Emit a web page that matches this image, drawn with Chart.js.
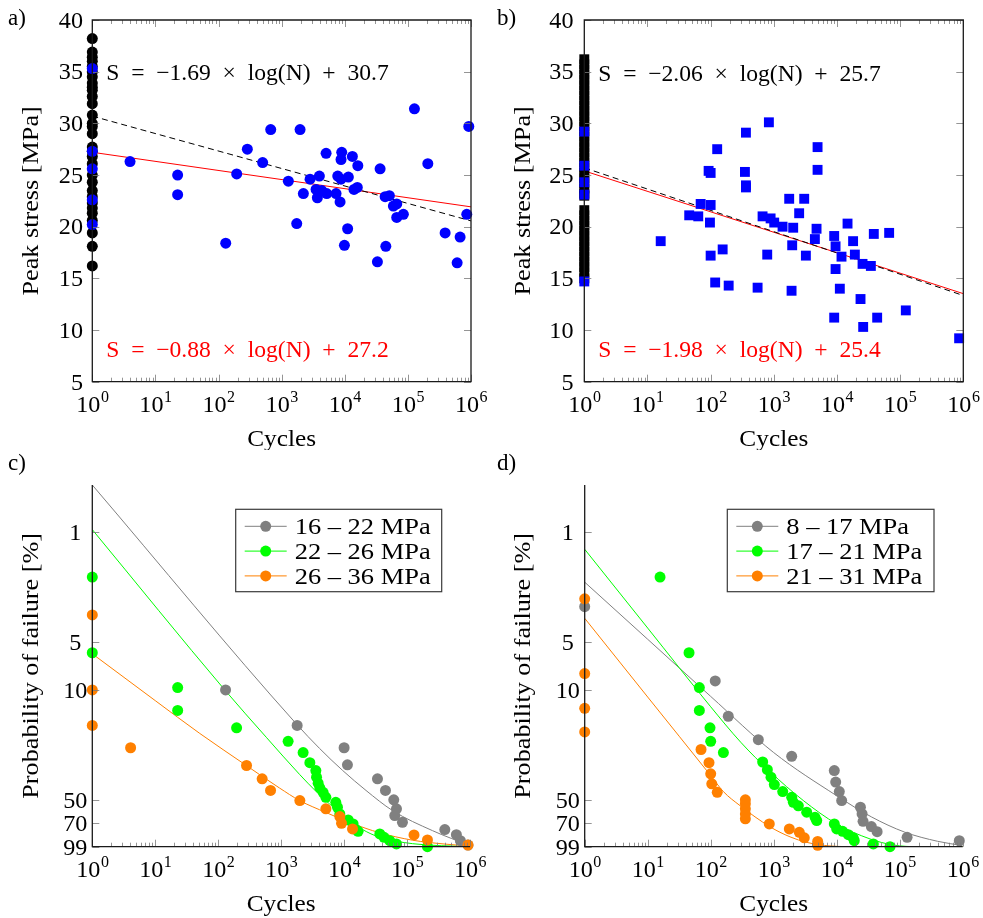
<!DOCTYPE html>
<html>
<head>
<meta charset="utf-8">
<script src="https://cdn.jsdelivr.net/npm/chart.js@4.4.1/dist/chart.umd.min.js"></script>
<style>
  body { margin: 0; background: #fff; }
  #wrap { position: relative; width: 983px; height: 918px; }
  canvas { position: absolute; }
</style>
</head>
<body>
<div id="wrap">
  <canvas id="pa" style="left:0;top:0"></canvas>
  <canvas id="pb" style="left:491px;top:0"></canvas>
  <canvas id="pc" style="left:0;top:450px"></canvas>
  <canvas id="pd" style="left:491px;top:450px"></canvas>
</div>
<script>
// shared axes
const xTicks = [1, 10, 100, 1e3, 1e4, 1e5, 1e6];
const xExp = ['0', '1', '2', '3', '4', '5', '6'];
const stressTicks = [5, 10, 15, 20, 25, 30, 35, 40];
const probTicks = [1, 5, 10, 50, 70, 99];
const fitN = [1, 1e6];

// panel a: specimens not failed (N = 1) and failures
const aRunBlack = [38.2, 36.9, 36.4, 36.0, 35.5, 35.0, 34.5, 33.9, 33.5, 33.2, 32.6, 31.9, 30.8, 30.0, 29.7,
  29.0, 27.7, 27.3, 26.8, 26.1, 25.0, 24.3, 23.5, 22.9, 22.3, 21.8, 21.3, 20.6, 19.4, 18.1, 16.2];
const aRunBlue = [35.3, 27.3, 25.6, 22.6, 20.2];
const aCycles = [3.96, 22.5, 22.5, 130, 194, 286, 500, 671, 1277, 1733, 1958, 2208, 2820, 3510, 3680, 3960,
  4320, 5060, 5180, 7280, 7740, 8420, 8730, 8950, 8730, 9870, 11100, 11400, 13200, 14000, 15800, 16100,
  32900, 36300, 43600, 44700, 50900, 58900, 66600, 66600, 84800, 127000, 207000, 389000, 603000, 672000,
  857000, 922000];
const aStress = [26.3, 25.0, 23.1, 18.4, 25.1, 27.5, 26.2, 29.4, 24.4, 20.3, 29.4, 23.2, 24.6, 23.6, 22.8, 24.9,
  23.5, 27.1, 23.2, 23.2, 24.9, 22.4, 26.5, 27.2, 24.6, 18.2, 19.8, 24.8, 26.8, 23.6, 23.8, 25.9,
  16.6, 25.6, 22.9, 18.1, 23.0, 22.0, 22.2, 20.9, 21.2, 31.4, 26.1, 19.4, 16.5, 19.0,
  21.2, 29.7];
const aFitAll = [30.7, 20.56];
const aFitFail = [27.2, 21.92];

// panel b
const bRunBlack = [36.2, 35.7, 35.2, 34.7, 34.2, 33.7, 33.2, 32.7, 32.2, 31.7, 31.2, 30.7, 30.2, 29.7, 29.2,
  28.7, 28.2, 27.7, 27.2, 26.7, 26.2, 25.7, 25.2, 24.7, 24.2, 23.7, 23.2, 23.0,
  21.6, 21.1, 20.6, 20.1, 19.6, 19.1, 18.6, 18.1, 17.6, 17.1, 16.6, 16.1, 15.6, 15.0];
const bRunBlue = [29.2, 25.9, 24.3, 23.1, 14.7];
const bCycles = [16.2, 45.8, 63.7, 69.5, 100, 92.9, 100, 97.5, 100, 127, 118, 155, 193, 362, 349, 362, 362,
  836, 554, 664, 787, 890, 1015, 1376, 1753, 2028, 1955, 1911, 2520, 3030, 3220, 4470, 4750, 4930, 4930,
  9040, 9500, 9500, 9040, 11100, 11800, 14700, 18000, 19200, 23600, 25400, 26000, 34400, 38300, 43300,
  67000, 123000, 859000];
const bStress = [18.6, 21.1, 21.0, 22.2, 22.1, 25.4, 25.2, 20.4, 17.2, 27.5, 14.6, 17.8, 14.3, 29.1, 25.3, 24.0, 23.8,
  30.1, 14.1, 21.0, 17.3, 20.8, 20.4, 20.0, 22.7, 19.9, 18.2, 13.8, 21.3, 22.7, 17.2, 18.8, 19.8, 27.7, 25.5,
  19.1, 18.1, 15.9, 11.2, 14.0, 17.1, 20.3, 18.6, 17.3, 13.0, 16.4, 10.3, 16.2, 19.3, 11.2,
  19.4, 11.9, 9.2];
const bFitAll = [25.7, 13.34];
const bFitFail = [25.4, 13.52];

// panel c: probability of failure [%] per stress class
const cLabels = ['16 – 22 MPa', '22 – 26 MPa', '26 – 36 MPa'];
const cGrayN = [131, 1795, 10000, 11300, 33900, 45400, 61500, 67900, 63800, 84500, 398000, 608000, 703000, 929000];
const cGrayP = [10.0, 16.8, 23.3, 29.9, 36.7, 43.5, 49.9, 56.9, 62.8, 69.3, 77.1, 83, 90.6, 96.6];
const cGreenN = [1, 1, 22.7, 22.7, 196, 1290, 2234, 2857, 3557, 3650, 3870, 4110, 4640, 5130, 7380, 7850, 8550,
  11600, 13900, 15700, 16700, 36900, 43100, 53100, 67900, 211000];
const cGreenP = [1.92, 5.81, 9.66, 13.5, 17.4, 21.2, 25.0, 29, 32.5, 35.8, 39.1, 41.9, 44.7, 48.1, 51.7, 55.6, 61.3,
  66.9, 71, 77.5, 79, 82.2, 86.3, 90.6, 95, 99];
const cOrangeN = [1, 1, 1, 4.06, 282, 499, 679, 1982, 5130, 8550, 9100, 13600, 129000, 211000, 929000];
const cOrangeP = [3.34, 10.0, 16.8, 23.3, 30.2, 36.7, 43.5, 50.4, 56.9, 63.7, 70.3, 76.4, 83.4, 89.7, 96.6];
const cGrayFitN = [1, 1734, 4060, 9500, 22300, 58900, 253600, 1e6];
const cGrayFitP = [0.5, 16.4, 23.5, 32.5, 43.5, 58.4, 78.3, 97.5];
const cGreenFitN = [1, 127, 581, 1960, 3600, 5850, 10770, 19700, 36200, 122000, 1e6];
const cGreenFitP = [0.96, 10, 20.0, 34.4, 44.2, 52.9, 65.6, 77.1, 86.1, 94.7, 99];
const cOrangeFitN = [1, 10, 51, 280, 944, 1960, 5190, 13680, 36200, 122000, 413000, 1e6];
const cOrangeFitP = [5.9, 11.7, 18.9, 30.2, 42, 50.4, 60.1, 70.6, 80.6, 90, 95.4, 98];

// panel d
const dLabels = ['8 – 17 MPa', '17 – 21 MPa', '21 – 31 MPa'];
const dGrayN = [1, 118, 190, 570, 1930, 9160, 9640, 11000, 12000, 23800, 25300, 26200, 35500, 43800, 131000, 883000];
const dGrayP = [2.96, 8.77, 14.7, 20.7, 26.4, 32.5, 38.5, 44.2, 50.4, 55.6, 61.3, 68.3, 73.8, 79.5, 86.3, 90.6];
const dGreenN = [15.7, 45.3, 66, 66, 97.5, 100, 159, 668, 793, 906, 1023, 1390, 1930, 2050, 2460, 3340, 4530, 4820,
  9160, 10000, 12400, 15300, 18300, 19000, 38100, 70100];
const dGreenP = [1.92, 5.81, 9.66, 13.5, 17.4, 21.2, 25.0, 28.7, 32.1, 35.8, 39.9, 44.2, 48.1, 51.7, 54.5, 59.8, 64.4, 67.6,
  71, 76.4, 79, 83, 87, 90.6, 95, 99];
const dOrangeN = [1, 1, 1, 1, 70.2, 94, 100, 104, 127, 355, 355, 355, 355, 355, 851, 1770, 2550, 3060, 4990, 4990];
const dOrangeP = [2.64, 7.87, 13.1, 18.5, 23.9, 29, 34.1, 39.5, 44.7, 49.9, 52.9, 56.9, 61.3, 65.9, 71, 76.4, 80.2, 87, 91.6, 97];
const dGrayFitN = [1, 10, 100, 1000, 10000, 35500, 120000, 400000, 1e6];
const dGrayFitP = [2.07, 4.77, 11.0, 25.0, 47, 64, 80, 91.5, 97.5];
const dGreenFitN = [1, 10, 100, 300, 870, 2950, 10000, 33900, 79400, 200000, 1e6];
const dGreenFitP = [1.28, 4.05, 12.8, 21.5, 33, 50.4, 71, 88.4, 96.6, 99, 99];
const dOrangeFitN = [1, 10, 100, 158.6, 292, 874, 1815, 3340, 7830, 23400, 1e6];
const dOrangeFitP = [3.51, 11.1, 35, 44.2, 54.3, 74, 85.7, 92.9, 97.9, 99, 99];

const FONT = '"Liberation Serif", "DejaVu Serif", serif';
const BLUE = '#0000ff', RED = '#ff0000', GRAY = '#808080', GREEN = '#00ff00', ORANGE = '#ff8000';

const pts = (xs, ys) => xs.map((v, i) => ({ x: v, y: ys[i] }));
const col = ys => ys.map(v => ({ x: 1, y: v }));

function marks(data, color, style, r) {
  return { data, pointStyle: style || 'circle', pointRadius: r || 5.5, pointBackgroundColor: color,
    pointBorderWidth: 0, showLine: false, clip: false };
}
function curve(data, color, dash, smooth) {
  return { data, borderColor: color, borderWidth: 1, borderDash: dash || [], pointRadius: 0, showLine: true,
    cubicInterpolationMode: smooth ? 'monotone' : 'default' };
}

// sx stretches the glyphs a little, the LaTeX font is wider than Times
function text(ctx, s, x, y, size, color, align, sx) {
  ctx.save();
  ctx.font = size + 'px ' + FONT;
  ctx.fillStyle = color || '#000';
  ctx.textAlign = align || 'left';
  ctx.textBaseline = 'alphabetic';
  ctx.translate(x, y);
  ctx.scale(sx || 1, 1);
  ctx.fillText(s, 0, 0);
  ctx.restore();
}

function decor(cfg) {
  return {
    id: 'decor',
    afterDatasetsDraw(chart) {
      const { ctx, chartArea: a, scales: { x, y } } = chart;
      ctx.save();
      ctx.strokeStyle = '#7a7a7a';
      ctx.lineWidth = 0.8;
      ctx.beginPath();
      const sides = cfg.box ? [a.bottom, a.top] : [a.bottom];
      for (let d = 1; d <= 1e6; d *= 10) {
        for (let m = 1; m < 10; m++) {
          const v = d * m;
          if (v > 1e6) break;
          const px = Math.round(x.getPixelForValue(v)) + 0.5;
          const len = m === 1 ? 7 : 4;
          sides.forEach(sy => {
            const dir = sy === a.bottom ? -1 : 1;
            ctx.moveTo(px, sy); ctx.lineTo(px, sy + dir * len);
          });
        }
      }
      cfg.yTicks.forEach(v => {
        const py = Math.round(y.getPixelForValue(v)) + 0.5;
        ctx.moveTo(a.left, py); ctx.lineTo(a.left + 7, py);
        if (cfg.box) { ctx.moveTo(a.right, py); ctx.lineTo(a.right - 7, py); }
      });
      ctx.stroke();
      ctx.strokeStyle = '#1a1a1a';
      ctx.lineWidth = 1.3;
      ctx.beginPath();
      if (cfg.box) {
        ctx.rect(a.left, a.top, a.right - a.left, a.bottom - a.top);
      } else {
        ctx.moveTo(a.left, a.top); ctx.lineTo(a.left, a.bottom); ctx.lineTo(a.right, a.bottom);
      }
      ctx.stroke();
      ctx.restore();
    },
    afterDraw(chart) {
      const { ctx, chartArea: a, scales: { x, y } } = chart;
      ctx.save();
      // y tick labels
      cfg.yTicks.forEach(v => {
        const py = y.getPixelForValue(v);
        text(ctx, String(v), cfg.yLabelX, py + 7.8, 23, '#000', cfg.yLabelAlign, 1.05);
      });
      // x tick labels 10^k
      xTicks.forEach((v, i) => {
        const px = x.getPixelForValue(v);
        ctx.font = '23px ' + FONT; const w1 = ctx.measureText('10').width * 1.05;
        ctx.font = '16px ' + FONT; const w2 = ctx.measureText(xExp[i]).width;
        const s = px - (w1 + w2) / 2;
        text(ctx, '10', s, a.bottom + 30, 23, '#000', 'left', 1.05);
        text(ctx, xExp[i], s + w1 + 0.5, a.bottom + 20.5, 16);
      });
      // axis titles
      text(ctx, 'Cycles', (a.left + a.right) / 2, a.bottom + 64.5, 23, '#000', 'center', 1.1);
      ctx.save();
      ctx.translate(cfg.yTitleX, (a.top + a.bottom) / 2);
      ctx.rotate(-Math.PI / 2);
      text(ctx, cfg.yTitle, 0, 0, 23, '#000', 'center', 1.14);
      ctx.restore();
      // panel letter
      text(ctx, cfg.letter, cfg.letterX, cfg.letterY, 23);
      // equations
      (cfg.eqs || []).forEach(e => text(ctx, e.text, a.left + 14, e.y, 23, e.color, 'left', 1.025));
      // legend
      if (cfg.legend) {
        const L = cfg.legend;
        ctx.strokeStyle = '#3a3a3a';
        ctx.lineWidth = 1.2;
        ctx.strokeRect(L.x, L.y, L.w, L.h);
        L.items.forEach((it, i) => {
          const cy = L.y + 17 + i * 24.8;
          ctx.strokeStyle = it.color;
          ctx.lineWidth = 1;
          ctx.beginPath(); ctx.moveTo(L.x + 9, cy); ctx.lineTo(L.x + 51, cy); ctx.stroke();
          ctx.fillStyle = it.color;
          ctx.beginPath(); ctx.arc(L.x + 30, cy, 5.5, 0, Math.PI * 2); ctx.fill();
          text(ctx, it.label, L.x + 59, cy + 7.8, 23, '#000', 'left', 1.15);
        });
      }
      ctx.restore();
    }
  };
}

function makePanel(id, W, H, area, yScale, datasets, cfg) {
  const cv = document.getElementById(id);
  cv.width = W; cv.height = H;
  return new Chart(cv, {
    type: 'scatter',
    data: { datasets },
    options: {
      responsive: false, animation: false, events: [],
      layout: { padding: { left: 0, top: area.T, right: W - area.R, bottom: 0 } },
      plugins: { legend: { display: false }, tooltip: { enabled: false } },
      scales: {
        x: { type: 'logarithmic', min: 1, max: 1e6, ticks: { display: false }, grid: { display: false },
          border: { display: false }, afterFit: s => { s.height = H - area.B; } },
        y: Object.assign({ ticks: { display: false }, grid: { display: false }, border: { display: false },
          afterFit: s => { s.width = area.L; } }, yScale)
      }
    },
    plugins: [decor(cfg)]
  });
}

const stressY = { type: 'linear', min: 5, max: 40 };
const probY = { type: 'logarithmic', min: 0.5, max: 99, reverse: true };

makePanel('pa', 491, 450, { L: 92.3, R: 471, T: 20, B: 381.7 }, stressY, [
  marks(col(aRunBlue), BLUE),
  marks(pts(aCycles, aStress), BLUE),
  marks(col(aRunBlack), '#000'),
  curve(pts(fitN, aFitAll), '#000', [6, 4]),
  curve(pts(fitN, aFitFail), RED)
], { box: true, yTicks: stressTicks, yLabelX: 83, yLabelAlign: 'right', yTitle: 'Peak stress [MPa]',
  yTitleX: 38, letter: 'a)', letterX: 8, letterY: 25,
  eqs: [{ text: 'S\u2002=\u2002−1.69\u2002×\u2002log(N)\u2002+\u200230.7', y: 80, color: '#000' },
        { text: 'S\u2002=\u2002−0.88\u2002×\u2002log(N)\u2002+\u200227.2', y: 357, color: RED }] });

makePanel('pb', 492, 450, { L: 93.3, R: 472.3, T: 20, B: 381.7 }, stressY, [
  marks(col(bRunBlue), BLUE, 'rect', 7),
  marks(pts(bCycles, bStress), BLUE, 'rect', 7),
  marks(col(bRunBlack), '#000', 'rect', 7),
  curve(pts(fitN, bFitAll), '#000', [6, 4]),
  curve(pts(fitN, bFitFail), RED)
], { box: true, yTicks: stressTicks, yLabelX: 82.5, yLabelAlign: 'right', yTitle: 'Peak stress [MPa]',
  yTitleX: 39, letter: 'b)', letterX: 6, letterY: 25,
  eqs: [{ text: 'S\u2002=\u2002−2.06\u2002×\u2002log(N)\u2002+\u200225.7', y: 80.7, color: '#000' },
        { text: 'S\u2002=\u2002−1.98\u2002×\u2002log(N)\u2002+\u200225.4', y: 357, color: RED }] });

makePanel('pc', 491, 468, { L: 92.3, R: 470, T: 35, B: 396.7 }, probY, [
  marks(pts(cOrangeN, cOrangeP), ORANGE),
  marks(pts(cGreenN, cGreenP), GREEN),
  marks(pts(cGrayN, cGrayP), GRAY),
  curve(pts(cOrangeFitN, cOrangeFitP), ORANGE, null, true),
  curve(pts(cGreenFitN, cGreenFitP), GREEN, null, true),
  curve(pts(cGrayFitN, cGrayFitP), GRAY, null, true)
], { box: false, yTicks: probTicks, yLabelX: 75.3, yLabelAlign: 'center', yTitle: 'Probability of failure [%]',
  yTitleX: 38, letter: 'c)', letterX: 8, letterY: 20,
  legend: { x: 235.7, y: 59.3, w: 206, h: 82.4, items: [
    { label: cLabels[0], color: GRAY }, { label: cLabels[1], color: GREEN }, { label: cLabels[2], color: ORANGE }] } });

makePanel('pd', 492, 468, { L: 93.7, R: 471.7, T: 35, B: 396.7 }, probY, [
  marks(pts(dOrangeN, dOrangeP), ORANGE),
  marks(pts(dGreenN, dGreenP), GREEN),
  marks(pts(dGrayN, dGrayP), GRAY),
  curve(pts(dOrangeFitN, dOrangeFitP), ORANGE, null, true),
  curve(pts(dGreenFitN, dGreenFitP), GREEN, null, true),
  curve(pts(dGrayFitN, dGrayFitP), GRAY, null, true)
], { box: false, yTicks: probTicks, yLabelX: 76.7, yLabelAlign: 'center', yTitle: 'Probability of failure [%]',
  yTitleX: 39, letter: 'd)', letterX: 6, letterY: 20,
  legend: { x: 236.3, y: 59.3, w: 206.7, h: 82.4, items: [
    { label: dLabels[0], color: GRAY }, { label: dLabels[1], color: GREEN }, { label: dLabels[2], color: ORANGE }] } });
</script>
</body>
</html>
